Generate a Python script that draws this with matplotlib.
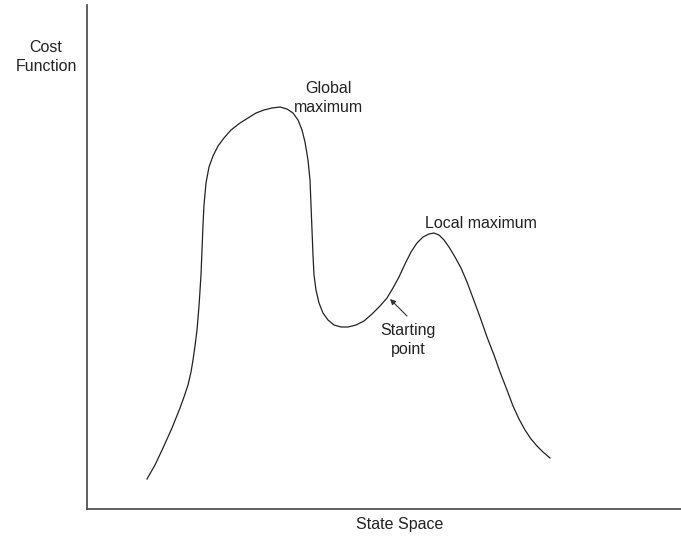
import matplotlib
matplotlib.use("Agg")
import matplotlib.pyplot as plt

# curve: state space position and cost value
state = [60, 68, 76, 85, 93, 97, 101, 104, 106, 108, 110, 112, 114, 115, 116, 117,
         119, 122, 126, 131, 137, 144, 153, 161, 169, 177, 185, 193, 200, 206, 211, 215,
         218, 221, 223, 224, 225, 226, 227, 229, 232, 236, 241, 247, 254, 261, 269, 277,
         285, 293, 300, 306, 312, 318, 324, 330, 336, 342, 347, 352, 357, 362, 368, 374,
         380, 386, 393, 400, 407, 413, 420, 426, 432, 438, 444, 450, 456, 463]
cost = [30, 44, 61, 81, 101, 112, 124, 137, 149, 163, 179, 203, 234, 259, 284, 304,
        326, 342, 353, 363, 371, 379, 386, 391, 396, 399, 401, 402, 400, 396, 389, 379,
        367, 349, 329, 304, 279, 254, 234, 219, 206, 196, 189, 184, 182, 182, 184, 188,
        195, 203, 211, 221, 232, 245, 257, 266, 272, 275, 276, 274, 269, 262, 252, 241,
        227, 211, 192, 172, 154, 137, 119, 103, 90, 79, 70, 63, 57, 51]

# where the starting point sits on the curve, and where its arrow begins
start_state, start_cost = 303, 210
arrow_state, arrow_cost = 320, 193

W, H = 681, 538
fig = plt.figure(figsize=(W / 100, H / 100), dpi=100)
plt.rcParams["font.family"] = ["Liberation Sans", "DejaVu Sans"]

ax = fig.add_axes([87 / W, (H - 509) / H, (W - 87) / W, (509 - 5) / H])
ax.plot(state, cost, color="#222222", lw=0.9)
ax.set_xlim(0, 594)
ax.set_ylim(0, 504)
ax.set_xticks([])
ax.set_yticks([])
for s in ["top", "right"]:
    ax.spines[s].set_visible(False)
for s in ["left", "bottom"]:
    ax.spines[s].set_color("#444444")
    ax.spines[s].set_linewidth(1.2)

txt = dict(color="#222222", fontsize=11.5, ha="center", va="center", linespacing=1.4)

fig.text(46 / W, 1 - 57 / H, "Cost\nFunction", **txt)
fig.text(400 / W, 1 - 525 / H, "State Space", **txt)
fig.text(328 / W, 1 - 98 / H, "Global\nmaximum", **txt)
fig.text(481 / W, 1 - 224 / H, "Local maximum", **txt)
fig.text(408 / W, 1 - 340 / H, "Starting\npoint", **txt)

ax.annotate("", xy=(start_state, start_cost), xytext=(arrow_state, arrow_cost),
            arrowprops=dict(arrowstyle="-|>", color="#333333", lw=0.8,
                            mutation_scale=8, shrinkA=0, shrinkB=0))

fig.savefig("out.png", dpi=100)
